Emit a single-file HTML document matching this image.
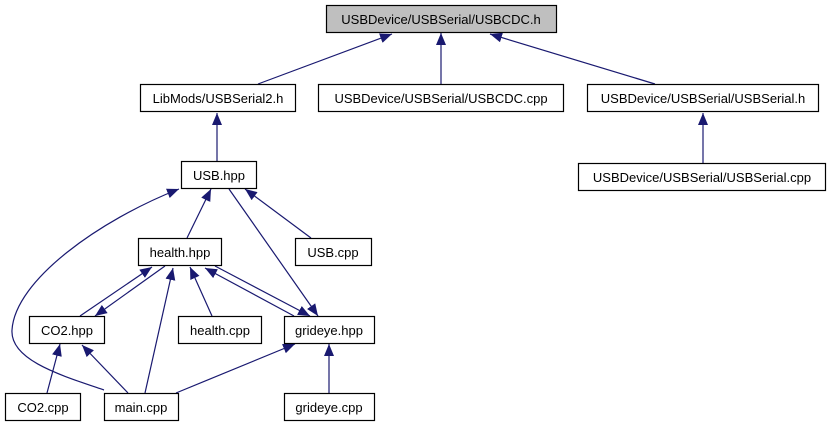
<!DOCTYPE html>
<html><head><meta charset="utf-8"><style>
html,body{margin:0;padding:0;background:#fff;width:831px;height:427px;overflow:hidden}
text{font-family:"Liberation Sans",sans-serif;font-size:13px;fill:#000}
</style></head><body>
<svg width="831" height="427" viewBox="0 0 831 427" xmlns="http://www.w3.org/2000/svg">
<defs><marker id="a" markerWidth="12" markerHeight="10" refX="12" refY="5" orient="auto" markerUnits="userSpaceOnUse"><path d="M0,0 L12,5 L0,10 Z" fill="#191970"/></marker></defs>
<g stroke="#191970" stroke-width="1.2" fill="none" marker-end="url(#a)">
<line x1="258" y1="84" x2="392" y2="34"/>
<line x1="441" y1="84" x2="441" y2="33"/>
<line x1="655" y1="84" x2="490" y2="34"/>
<line x1="703" y1="163" x2="703" y2="113"/>
<line x1="217" y1="162" x2="217" y2="113"/>
<line x1="187" y1="238" x2="211" y2="189"/>
<line x1="311" y1="238" x2="245" y2="189"/>
<line x1="229" y1="189" x2="318" y2="316"/>
<path d="M104,390 C60,375 10,360 12,330 C15,280 100,220 179,189"/>
<line x1="80" y1="316" x2="152" y2="267"/>
<line x1="165" y1="266" x2="95" y2="316"/>
<line x1="145" y1="393" x2="173" y2="268"/>
<line x1="212" y1="316" x2="190" y2="267"/>
<line x1="294" y1="316" x2="205" y2="268"/>
<line x1="215" y1="266" x2="310" y2="316"/>
<line x1="47" y1="393" x2="60" y2="344"/>
<line x1="128" y1="393" x2="82" y2="345"/>
<line x1="176" y1="393" x2="295" y2="344"/>
<line x1="329" y1="393" x2="329" y2="344"/>
</g>
<g stroke="#000" stroke-width="1.2" fill="#fff">
<rect x="326.5" y="5.5" width="230" height="27" fill="#bfbfbf"/>
<rect x="140.5" y="84.5" width="155" height="27"/>
<rect x="318.5" y="84.5" width="245" height="27"/>
<rect x="587.5" y="84.5" width="231" height="27"/>
<rect x="578.5" y="163.5" width="247" height="27"/>
<rect x="181.5" y="161.5" width="75" height="27"/>
<rect x="138.5" y="238.5" width="83" height="27"/>
<rect x="295.5" y="238.5" width="76" height="27"/>
<rect x="29.5" y="316.5" width="75" height="27"/>
<rect x="178.5" y="316.5" width="83" height="27"/>
<rect x="284.5" y="316.5" width="90" height="27"/>
<rect x="5.5" y="393.5" width="75" height="27"/>
<rect x="104.5" y="393.5" width="74" height="27"/>
<rect x="284.5" y="393.5" width="90" height="27"/>
</g>
<g text-anchor="middle">
<text x="441" y="24">USBDevice/USBSerial/USBCDC.h</text>
<text x="218" y="103">LibMods/USBSerial2.h</text>
<text x="441" y="103">USBDevice/USBSerial/USBCDC.cpp</text>
<text x="703" y="103">USBDevice/USBSerial/USBSerial.h</text>
<text x="702" y="182">USBDevice/USBSerial/USBSerial.cpp</text>
<text x="219" y="180">USB.hpp</text>
<text x="180" y="257">health.hpp</text>
<text x="333" y="257">USB.cpp</text>
<text x="67" y="335">CO2.hpp</text>
<text x="220" y="335">health.cpp</text>
<text x="329" y="335">grideye.hpp</text>
<text x="43" y="412">CO2.cpp</text>
<text x="141" y="412">main.cpp</text>
<text x="329" y="412">grideye.cpp</text>
</g>
</svg>
</body></html>
